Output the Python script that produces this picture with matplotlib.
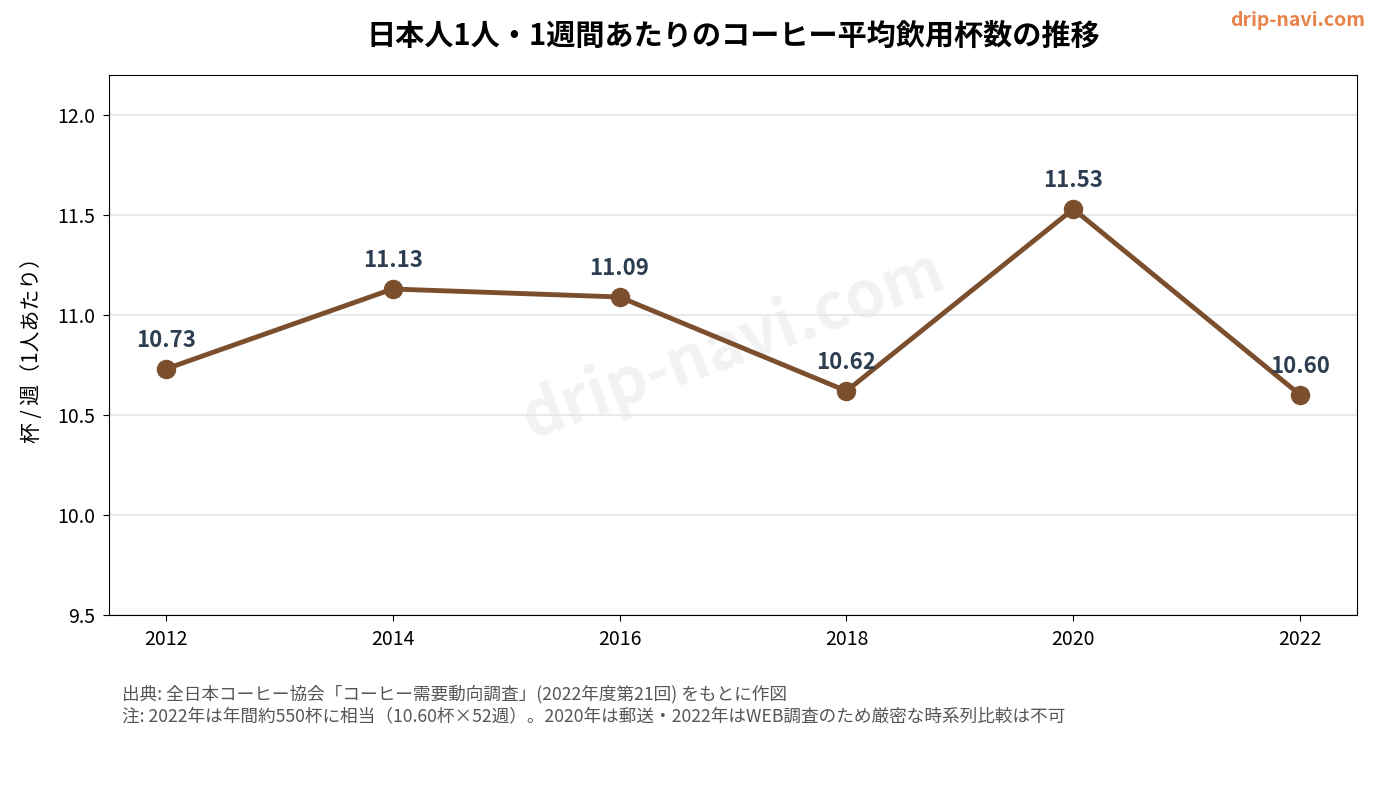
import numpy as np
import matplotlib.pyplot as plt

plt.rcParams['font.family'] = ['Noto Sans CJK JP', 'DejaVu Sans']

years = [2012, 2014, 2016, 2018, 2020, 2022]
cups = [10.73, 11.13, 11.09, 10.62, 11.53, 10.60]

fig = plt.figure(figsize=(13.8, 8.1), dpi=100)
ax = fig.add_axes([109/1380, 1 - 615/810, (1357-109)/1380, (615-75)/810])

# watermark
ax.text(0.5, 0.5, 'drip-navi.com', transform=ax.transAxes, fontsize=46, fontweight='bold',
        color='#cccccc', alpha=0.25, rotation=20, ha='center', va='center', zorder=0)

ax.plot(years, cups, color='#7B4F2E', linewidth=3.5, marker='o', markersize=13, zorder=3)
for x, y in zip(years, cups):
    ax.annotate(f'{y:.2f}', (x, y), xytext=(0, 12), textcoords='offset points',
                ha='center', va='bottom', fontsize=16, fontweight='bold', color='#2C3E50')

ax.set_xlim(2011.5, 2022.5)
ax.set_ylim(9.5, 12.2)
ax.set_xticks(years)
ax.set_yticks([9.5, 10.0, 10.5, 11.0, 11.5, 12.0])
ax.tick_params(labelsize=14, length=4.5, pad=5.5)
ax.yaxis.grid(True, color='#e5e5e5', linewidth=1.2)
ax.set_axisbelow(True)
ax.set_ylabel('杯 / 週（1人あたり）', fontsize=15, labelpad=10)

fig.text(733/1380, 1 - 36/810, '日本人1人・1週間あたりのコーヒー平均飲用杯数の推移',
         ha='center', va='center', fontsize=21, fontweight='bold')
fig.text(1365/1380, 1 - 20/810, 'drip-navi.com', ha='right', va='center',
         fontsize=14, fontweight='bold', color='#E8834A')
fig.text(122/1380, 1 - 694/810, '出典: 全日本コーヒー協会「コーヒー需要動向調査」(2022年度第21回) をもとに作図',
         ha='left', va='center', fontsize=12.7, color='#555555')
fig.text(122/1380, 1 - 716/810, '注: 2022年は年間約550杯に相当（10.60杯×52週）。2020年は郵送・2022年はWEB調査のため厳密な時系列比較は不可',
         ha='left', va='center', fontsize=12.7, color='#555555')

fig.savefig('out.png', dpi=100)
